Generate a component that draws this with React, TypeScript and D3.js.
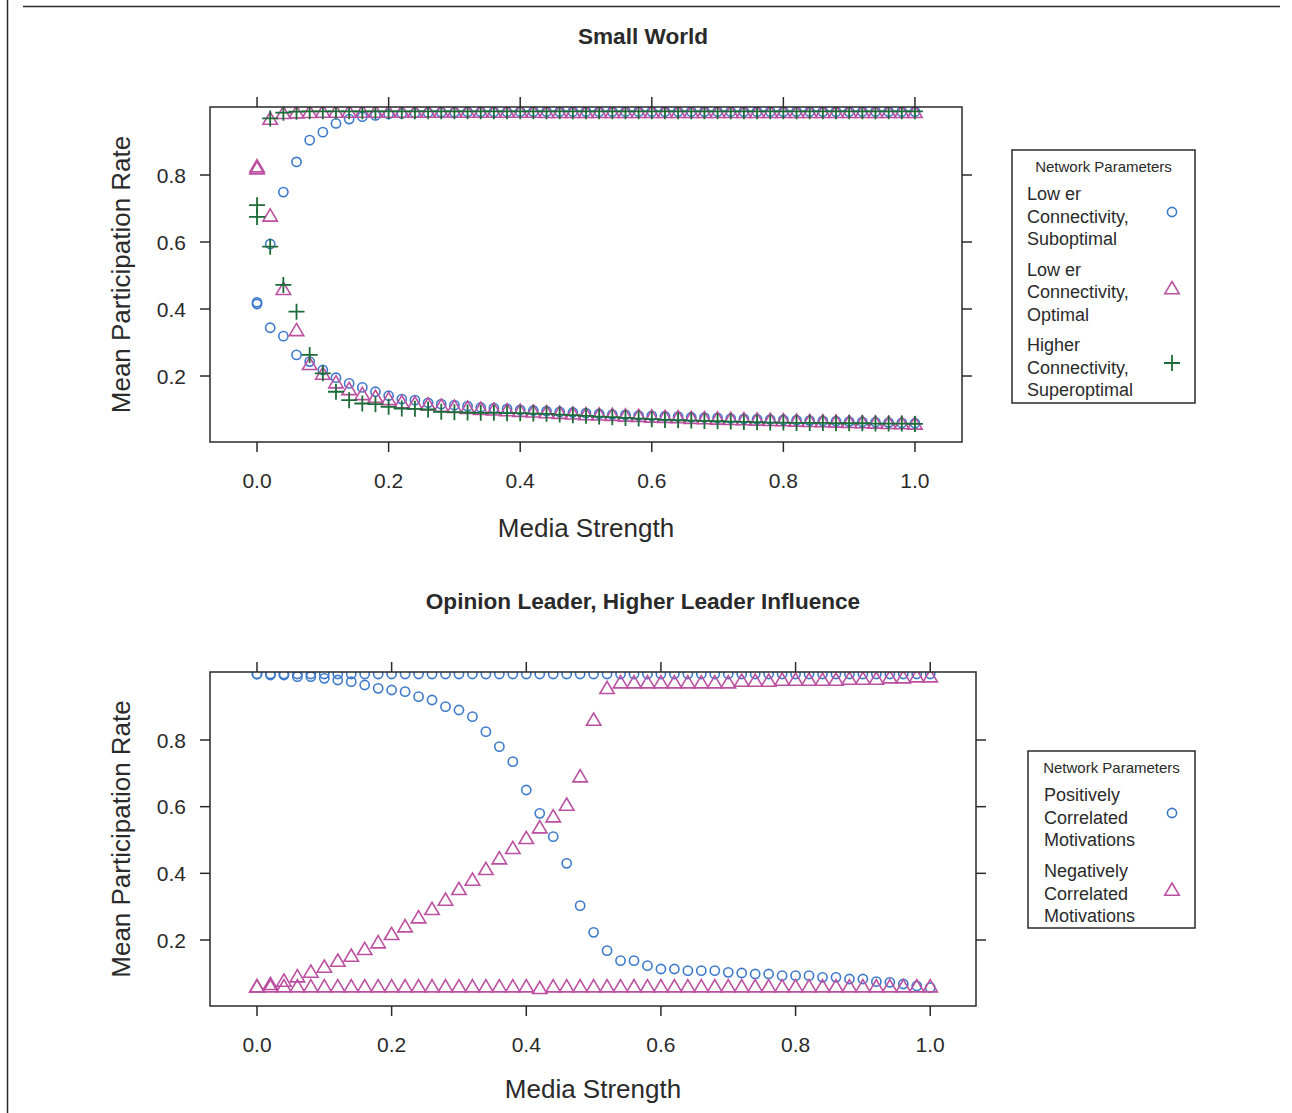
import React from "react";
import * as d3 from "d3";

// ---------- DATA ----------
const mediaStrength = [
  0.0, 0.02, 0.04, 0.06, 0.08, 0.1, 0.12, 0.14, 0.16, 0.18,
  0.2, 0.22, 0.24, 0.26, 0.28, 0.3, 0.32, 0.34, 0.36, 0.38,
  0.4, 0.42, 0.44, 0.46, 0.48, 0.5, 0.52, 0.54, 0.56, 0.58,
  0.6, 0.62, 0.64, 0.66, 0.68, 0.7, 0.72, 0.74, 0.76, 0.78,
  0.8, 0.82, 0.84, 0.86, 0.88, 0.9, 0.92, 0.94, 0.96, 0.98, 1.0,
];
const xTicks = [0.0, 0.2, 0.4, 0.6, 0.8, 1.0];
const yTicks = [0.2, 0.4, 0.6, 0.8];

// Small World: Lower Connectivity, Suboptimal (circles)
const swSubUpper = [
  0.42, 0.594, 0.749, 0.839, 0.904, 0.928, 0.954, 0.967, 0.974, 0.978,
  0.982, 0.984, 0.985, 0.986, 0.987, 0.987, 0.988, 0.988, 0.988, 0.988,
  0.989, 0.989, 0.989, 0.989, 0.989, 0.989, 0.989, 0.989, 0.989, 0.989,
  0.989, 0.989, 0.989, 0.989, 0.989, 0.989, 0.989, 0.989, 0.989, 0.989,
  0.989, 0.989, 0.989, 0.989, 0.989, 0.989, 0.989, 0.989, 0.989, 0.989, 0.989,
];
const swSubLower = [
  0.415, 0.344, 0.319, 0.263, 0.243, 0.218, 0.195, 0.178, 0.166, 0.153,
  0.141, 0.131, 0.128, 0.12, 0.116, 0.113, 0.11, 0.106, 0.104, 0.102,
  0.099, 0.097, 0.095, 0.093, 0.091, 0.089, 0.087, 0.085, 0.084, 0.082,
  0.081, 0.08, 0.079, 0.077, 0.076, 0.075, 0.073, 0.072, 0.071, 0.07,
  0.069, 0.068, 0.067, 0.066, 0.065, 0.064, 0.063, 0.062, 0.061, 0.06, 0.059,
];
// Small World: Lower Connectivity, Optimal (triangles)
const swOptUpper = [
  0.822, 0.964, 0.981, 0.983, 0.984, 0.985, 0.985, 0.985, 0.985, 0.985,
  0.985, 0.985, 0.985, 0.985, 0.985, 0.985, 0.985, 0.985, 0.985, 0.985,
  0.985, 0.985, 0.984, 0.984, 0.984, 0.984, 0.984, 0.984, 0.984, 0.984,
  0.984, 0.984, 0.984, 0.984, 0.984, 0.984, 0.984, 0.984, 0.984, 0.984,
  0.984, 0.984, 0.984, 0.984, 0.984, 0.984, 0.984, 0.984, 0.984, 0.984, 0.984,
];
const swOptLower = [
  0.816, 0.675, 0.456, 0.333, 0.232, 0.203, 0.177, 0.157, 0.142, 0.134,
  0.127, 0.118, 0.115, 0.111, 0.107, 0.104, 0.101, 0.098, 0.096, 0.094,
  0.092, 0.09, 0.088, 0.086, 0.084, 0.082, 0.081, 0.08, 0.078, 0.077,
  0.075, 0.074, 0.073, 0.071, 0.07, 0.069, 0.068, 0.067, 0.066, 0.065,
  0.064, 0.063, 0.062, 0.061, 0.06, 0.059, 0.058, 0.057, 0.056, 0.055, 0.054,
];
// Small World: Higher Connectivity, Superoptimal (plus)
const swSupUpper = [
  0.71, 0.969, 0.986, 0.989, 0.99, 0.99, 0.99, 0.99, 0.99, 0.99,
  0.99, 0.99, 0.99, 0.99, 0.99, 0.99, 0.99, 0.99, 0.99, 0.99,
  0.99, 0.99, 0.99, 0.99, 0.99, 0.99, 0.99, 0.99, 0.99, 0.99,
  0.99, 0.99, 0.99, 0.99, 0.99, 0.99, 0.99, 0.99, 0.99, 0.99,
  0.99, 0.99, 0.99, 0.99, 0.99, 0.99, 0.99, 0.99, 0.99, 0.99, 0.99,
];
const swSupLower = [
  0.675, 0.586, 0.472, 0.392, 0.263, 0.208, 0.153, 0.128, 0.118, 0.116,
  0.108, 0.103, 0.102, 0.1, 0.093, 0.092, 0.091, 0.09, 0.09, 0.089,
  0.089, 0.088, 0.087, 0.085, 0.083, 0.081, 0.079, 0.077, 0.075, 0.073,
  0.071, 0.069, 0.068, 0.067, 0.066, 0.065, 0.064, 0.063, 0.062, 0.061,
  0.061, 0.06, 0.06, 0.06, 0.059, 0.059, 0.059, 0.058, 0.058, 0.058, 0.057,
];

// Opinion Leader: Positively Correlated Motivations (circles)
const olPosUpper = [
  0.998, 0.998, 0.998, 0.998, 0.998, 0.998, 0.998, 0.998, 0.998, 0.998,
  0.998, 0.998, 0.998, 0.998, 0.998, 0.998, 0.998, 0.998, 0.998, 0.998,
  0.998, 0.998, 0.998, 0.998, 0.998, 0.998, 0.998, 0.998, 0.998, 0.998,
  0.998, 0.998, 0.998, 0.998, 0.998, 0.998, 0.998, 0.998, 0.998, 0.998,
  0.998, 0.998, 0.998, 0.998, 0.998, 0.998, 0.998, 0.998, 0.998, 0.998, 0.998,
];
const olPosLower = [
  0.998, 0.995, 0.995, 0.99, 0.99, 0.985, 0.98, 0.975, 0.965, 0.955,
  0.95, 0.945, 0.93, 0.92, 0.9, 0.89, 0.87, 0.825, 0.78, 0.735,
  0.65, 0.58, 0.51, 0.43, 0.303, 0.223, 0.168, 0.138, 0.138, 0.123,
  0.113, 0.113, 0.108, 0.108, 0.108, 0.103, 0.101, 0.098, 0.098, 0.093,
  0.093, 0.093, 0.088, 0.088, 0.083, 0.083, 0.075, 0.073, 0.068, 0.062, 0.057,
];
// Opinion Leader: Negatively Correlated Motivations (triangles)
const olNegRise = [
  0.057, 0.064, 0.074, 0.087, 0.101, 0.116, 0.134, 0.149, 0.169, 0.189,
  0.214, 0.237, 0.264, 0.289, 0.317, 0.349, 0.377, 0.409, 0.441, 0.472,
  0.502, 0.534, 0.567, 0.602, 0.687, 0.857, 0.952, 0.969, 0.969, 0.969,
  0.969, 0.969, 0.969, 0.969, 0.969, 0.969, 0.974, 0.974, 0.974, 0.977,
  0.977, 0.977, 0.977, 0.977, 0.98, 0.98, 0.98, 0.984, 0.984, 0.987, 0.987,
];
const olNegFlat = [
  0.057, 0.057, 0.057, 0.057, 0.057, 0.057, 0.057, 0.057, 0.057, 0.057,
  0.057, 0.057, 0.057, 0.057, 0.057, 0.057, 0.057, 0.057, 0.057, 0.057,
  0.057, 0.052, 0.057, 0.057, 0.057, 0.057, 0.057, 0.057, 0.057, 0.057,
  0.057, 0.057, 0.057, 0.057, 0.057, 0.057, 0.057, 0.057, 0.057, 0.057,
  0.057, 0.057, 0.057, 0.057, 0.057, 0.057, 0.057, 0.057, 0.057, 0.057, 0.057,
];

const topLegendItems = [
  { lines: ["Low er", "Connectivity,", "Suboptimal"], shape: "circle" },
  { lines: ["Low er", "Connectivity,", "Optimal"], shape: "triangle" },
  { lines: ["Higher", "Connectivity,", "Superoptimal"], shape: "plus" },
];
const bottomLegendItems = [
  { lines: ["Positively", "Correlated", "Motivations"], shape: "circle" },
  { lines: ["Negatively", "Correlated", "Motivations"], shape: "triangle" },
];

// ---------- STYLE ----------
const COLORS: Record<string, string> = {
  circle: "#3d7acb",
  triangle: "#bb4fa0",
  plus: "#1c6b38",
};
const INK = "#2a2a2a";
const FONT = "'Liberation Sans', Arial, Helvetica, sans-serif";

function Marker({ shape, x, y }: { shape: string; x: number; y: number }) {
  const c = COLORS[shape];
  if (shape === "circle") {
    return <circle cx={x} cy={y} r={4.6} fill="none" stroke={c} strokeWidth={1.6} />;
  }
  if (shape === "triangle") {
    const p = `M${x},${y - 8} L${x + 7.2},${y + 4.2} L${x - 7.2},${y + 4.2} Z`;
    return <path d={p} fill="none" stroke={c} strokeWidth={1.6} strokeLinejoin="miter" />;
  }
  return (
    <path
      d={`M${x - 8},${y} H${x + 8} M${x},${y - 8} V${y + 8}`}
      fill="none"
      stroke={c}
      strokeWidth={1.8}
    />
  );
}

type Series = { shape: string; values: number[] };

function Panel(props: {
  id: string;
  title: string;
  titleY: number;
  xLabelOffset: number;
  box: { x0: number; x1: number; y0: number; y1: number };
  xDomain: [number, number];
  yDomain: [number, number];
  series: Series[];
  legend: { x0: number; x1: number; y0: number; y1: number; items: { lines: string[]; shape: string }[]; textX: number; firstLineY: number; groupStep: number };
}) {
  const { box, series, legend } = props;
  const x = d3.scaleLinear().domain(props.xDomain).range([box.x0, box.x1]);
  const y = d3.scaleLinear().domain(props.yDomain).range([box.y1, box.y0]);
  const tk = 10;
  const cx = (box.x0 + box.x1) / 2;
  const cy = (box.y0 + box.y1) / 2;
  const lineH = 22.5;
  return (
    <g>
      <defs>
        <clipPath id={`clip-${props.id}`}>
          <rect x={box.x0} y={box.y0} width={box.x1 - box.x0} height={box.y1 - box.y0} />
        </clipPath>
      </defs>
      <text x={643} y={props.titleY} textAnchor="middle" dominantBaseline="central" fontFamily={FONT} fontWeight="bold" fontSize={22.6} fill={INK}>
        {props.title}
      </text>
      {/* markers */}
      <g clipPath={`url(#clip-${props.id})`}>
        {series.map((s, si) => (
          <g key={si}>
            {s.values.map((v, i) => (
              <Marker key={i} shape={s.shape} x={x(mediaStrength[i])} y={y(v)} />
            ))}
          </g>
        ))}
      </g>
      {/* box */}
      <rect x={box.x0} y={box.y0} width={box.x1 - box.x0} height={box.y1 - box.y0} fill="none" stroke={INK} strokeWidth={1.5} />
      {/* x ticks */}
      {xTicks.map((t) => (
        <g key={`x${t}`}>
          <line x1={x(t)} x2={x(t)} y1={box.y1} y2={box.y1 + tk} stroke={INK} strokeWidth={1.5} />
          <line x1={x(t)} x2={x(t)} y1={box.y0} y2={box.y0 - tk} stroke={INK} strokeWidth={1.5} />
          <text x={x(t)} y={box.y1 + 38.5} textAnchor="middle" dominantBaseline="central" fontFamily={FONT} fontSize={21} fill={INK}>
            {d3.format(".1f")(t)}
          </text>
        </g>
      ))}
      {/* y ticks */}
      {yTicks.map((t) => (
        <g key={`y${t}`}>
          <line x1={box.x0} x2={box.x0 - tk} y1={y(t)} y2={y(t)} stroke={INK} strokeWidth={1.5} />
          <line x1={box.x1} x2={box.x1 + tk} y1={y(t)} y2={y(t)} stroke={INK} strokeWidth={1.5} />
          <text x={186} y={y(t)} textAnchor="end" dominantBaseline="central" fontFamily={FONT} fontSize={21} fill={INK}>
            {d3.format(".1f")(t)}
          </text>
        </g>
      ))}
      {/* axis labels */}
      <text x={cx} y={box.y1 + props.xLabelOffset} textAnchor="middle" dominantBaseline="central" fontFamily={FONT} fontSize={26} fill={INK}>
        Media Strength
      </text>
      <text transform={`translate(121,${cy}) rotate(-90)`} textAnchor="middle" dominantBaseline="central" fontFamily={FONT} fontSize={26} fill={INK}>
        Mean Participation Rate
      </text>
      {/* legend */}
      <rect x={legend.x0} y={legend.y0} width={legend.x1 - legend.x0} height={legend.y1 - legend.y0} fill="white" stroke={INK} strokeWidth={1.5} />
      <text x={(legend.x0 + legend.x1) / 2} y={legend.y0 + 16} textAnchor="middle" dominantBaseline="central" fontFamily={FONT} fontSize={15} fill={INK}>
        Network Parameters
      </text>
      {legend.items.map((it, gi) => {
        const gy = legend.firstLineY + gi * legend.groupStep;
        return (
          <g key={gi}>
            {it.lines.map((ln, li) => (
              <text key={li} x={legend.textX} y={gy + li * lineH} dominantBaseline="central" fontFamily={FONT} fontSize={18} fill={INK}>
                {ln}
              </text>
            ))}
            <Marker shape={it.shape} x={1172} y={gy + lineH * 0.8 + (it.shape === "triangle" ? 2 : 0)} />
          </g>
        );
      })}
    </g>
  );
}

export default function App() {
  return (
    <svg
      width={1292}
      height={1113}
      style={{ position: "absolute", left: 0, top: 0, background: "white" }}
    >
      <rect x={0} y={0} width={1292} height={1113} fill="white" />
      <line x1={7.5} x2={7.5} y1={0} y2={1113} stroke={INK} strokeWidth={1.5} />
      <line x1={23} x2={1280} y1={6.5} y2={6.5} stroke={INK} strokeWidth={1.5} />
      <Panel
        id="sw"
        title="Small World"
        titleY={36}
        xLabelOffset={86}
        box={{ x0: 210, x1: 962, y0: 107, y1: 442 }}
        xDomain={[-0.0715, 1.0715]}
        yDomain={[0.003, 1.003]}
        series={[
          { shape: "circle", values: swSubUpper },
          { shape: "circle", values: swSubLower },
          { shape: "triangle", values: swOptUpper },
          { shape: "triangle", values: swOptLower },
          { shape: "plus", values: swSupUpper },
          { shape: "plus", values: swSupLower },
        ]}
        legend={{ x0: 1012, x1: 1195, y0: 150, y1: 403, items: topLegendItems, textX: 1027, firstLineY: 194, groupStep: 75.5 }}
      />
      <Panel
        id="ol"
        title="Opinion Leader, Higher Leader Influence"
        titleY={601}
        xLabelOffset={83}
        box={{ x0: 210, x1: 976, y0: 672, y1: 1006 }}
        xDomain={[-0.0698, 1.068]}
        yDomain={[0.002, 1.004]}
        series={[
          { shape: "circle", values: olPosUpper },
          { shape: "circle", values: olPosLower },
          { shape: "triangle", values: olNegRise },
          { shape: "triangle", values: olNegFlat },
        ]}
        legend={{ x0: 1028, x1: 1195, y0: 751, y1: 928, items: bottomLegendItems, textX: 1044, firstLineY: 795, groupStep: 76 }}
      />
    </svg>
  );
}
